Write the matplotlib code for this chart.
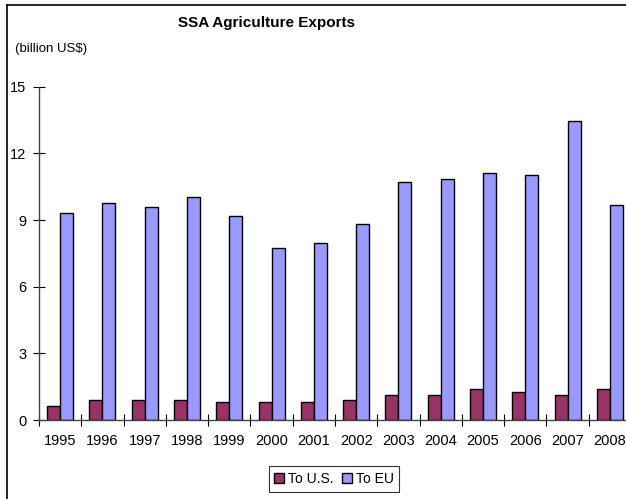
import matplotlib
matplotlib.use("Agg")
import matplotlib.pyplot as plt
from matplotlib.lines import Line2D
import numpy as np

years = ["1995", "1996", "1997", "1998", "1999", "2000", "2001",
         "2002", "2003", "2004", "2005", "2006", "2007", "2008"]
to_us = [0.65, 0.88, 0.88, 0.88, 0.83, 0.83, 0.83,
         0.88, 1.14, 1.14, 1.41, 1.28, 1.14, 1.41]
to_eu = [9.30, 9.76, 9.57, 10.02, 9.18, 7.72, 7.96,
         8.80, 10.72, 10.85, 11.10, 11.04, 13.45, 9.69]
yticks = [0, 3, 6, 9, 12, 15]

plt.rcParams['font.family'] = ['Liberation Sans', 'DejaVu Sans']

W, H = 626, 499
fig = plt.figure(figsize=(W / 100, H / 100), dpi=100)
ax = fig.add_axes([39 / W, 1 - 420 / H, 592 / W, (420 - 86.7) / H])

x = np.arange(len(years))
bw = 0.307
ax.bar(x - bw / 2, to_us, width=bw, color="#993366", edgecolor="black",
       linewidth=1.0, label="To U.S.")
ax.bar(x + bw / 2, to_eu, width=bw, color="#9999FF", edgecolor="black",
       linewidth=1.0, label="To EU")

ax.set_xlim(-0.5, len(years) - 0.5)
ax.set_ylim(0, 15)
ax.set_yticks(yticks)
ax.set_yticklabels([str(v) for v in yticks], fontsize=10.5)
ax.set_xticks(np.arange(len(years) + 1) - 0.5)
ax.set_xticklabels([])
ax.set_xticks(x, minor=True)
ax.set_xticklabels(years, minor=True, fontsize=10.5)
ax.tick_params(axis='x', which='minor', length=0, pad=10)
ax.tick_params(axis='x', which='major', direction='inout', length=8, width=0.8)
ax.tick_params(axis='y', direction='inout', length=8, width=0.8, pad=5)

for s in ['top', 'right']:
    ax.spines[s].set_visible(False)
for s in ['left', 'bottom']:
    ax.spines[s].set_color('#444444')
    ax.spines[s].set_linewidth(1.0)

fig.text(267 / W, 1 - 23 / H, "SSA Agriculture Exports", ha='center', va='center',
         fontsize=11, fontweight='bold')
fig.text(15 / W, 1 - 49 / H, "(billion US$)", ha='left', va='center', fontsize=9.5)

leg = ax.legend(loc='center', bbox_to_anchor=(334 / W, 1 - 479 / H),
                bbox_transform=fig.transFigure, ncol=2, frameon=True,
                fancybox=False, edgecolor='black', fontsize=10,
                handlelength=0.7, handleheight=0.7, handletextpad=0.3,
                columnspacing=0.6, borderpad=0.4)
leg.get_frame().set_linewidth(0.8)

fig.add_artist(Line2D([7 / W, 7 / W], [0, 1 - 5 / H], transform=fig.transFigure,
                      color='black', linewidth=1.2))
fig.add_artist(Line2D([7 / W, 1], [1 - 5 / H, 1 - 5 / H], transform=fig.transFigure,
                      color='black', linewidth=1.2))

fig.savefig("out.png", dpi=100)
